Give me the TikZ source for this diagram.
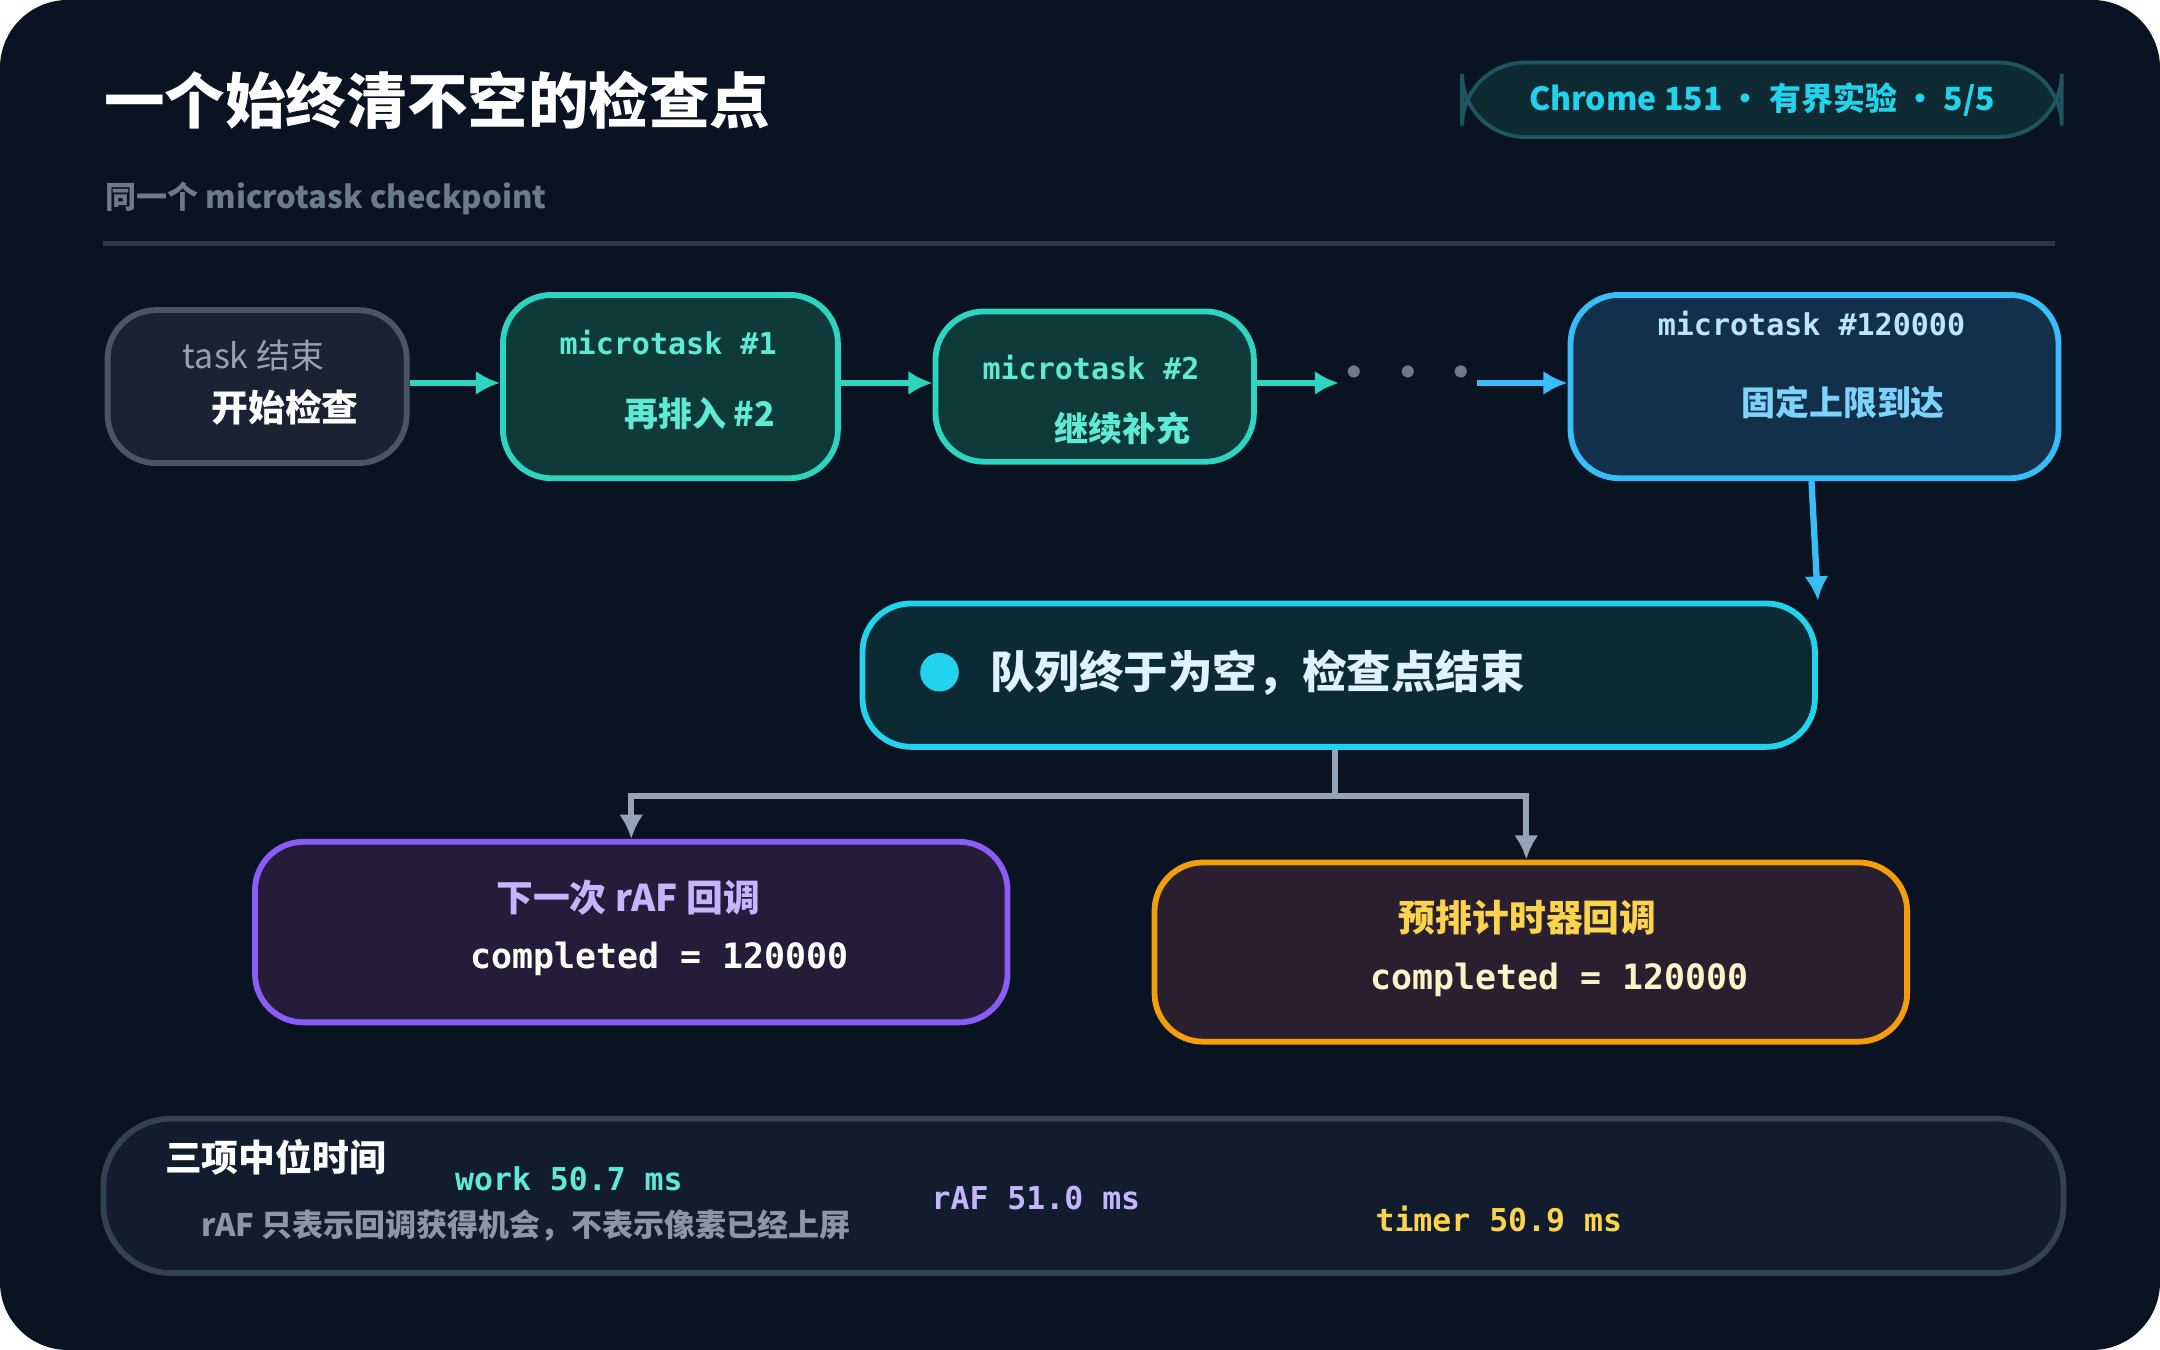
\documentclass[tikz,border=0pt]{standalone}
\usepackage{fontspec}
\setmainfont{Noto Sans CJK SC}
\newfontfamily\codefont{DejaVu Sans Mono}
\usetikzlibrary{positioning,arrows.meta}
\definecolor{bgc}{HTML}{0A1321}
\definecolor{teal}{HTML}{2DD4BF}
\definecolor{tealtxt}{HTML}{5EEAD4}
\definecolor{tealfill}{HTML}{0F3A3A}
\definecolor{sky}{HTML}{38BDF8}
\definecolor{skyfill}{HTML}{12304A}
\definecolor{skytxt}{HTML}{7DD3FC}
\definecolor{skypale}{HTML}{BAE6FD}
\definecolor{cyanc}{HTML}{22D3EE}
\definecolor{cyanfill}{HTML}{0C2A33}
\definecolor{cyanpale}{HTML}{E0F2FE}
\definecolor{greyline}{HTML}{94A3B8}
\definecolor{greytxt}{HTML}{6B7A8C}
\definecolor{greytxt2}{HTML}{8B97A8}
\definecolor{rule}{HTML}{2A3648}
\definecolor{badgefill}{HTML}{0E2A33}
\definecolor{badgeline}{HTML}{1D5560}
\definecolor{startfill}{HTML}{1A2233}
\definecolor{startline}{HTML}{4A5568}
\definecolor{purp}{HTML}{8B5CF6}
\definecolor{purpfill}{HTML}{251C3A}
\definecolor{purptxt}{HTML}{C4B5FD}
\definecolor{amber}{HTML}{F59E0B}
\definecolor{amberfill}{HTML}{2A1F2E}
\definecolor{ambertxt}{HTML}{FCD34D}
\definecolor{amberpale}{HTML}{FEF3C7}
\definecolor{sumfill}{HTML}{111D2E}
\definecolor{sumline}{HTML}{334155}
\tikzset{
  box/.style={draw, line width=1.2pt, rounded corners=10pt, anchor=north west, inner sep=0pt},
  flow/.style={-{Latex[length=5pt,width=5pt]}, line width=1.3pt},
  lbl/.style={font=\fontsize{7}{8}\selectfont\bfseries, inner sep=0pt},
  code/.style={font=\codefont\fontsize{6.2}{7}\selectfont\bfseries, inner sep=0pt},
}
\begin{document}
\begin{tikzpicture}[x=0.01cm,y=-0.01cm]
	%background
	\useasboundingbox (0,0) rectangle (1568,980);
	\fill[bgc, rounded corners=14pt] (0,0) rectangle (1568,980);

	%header
	\node[anchor=west, text=white, font=\fontsize{12.5}{14}\selectfont\bfseries, inner sep=0pt] (title) at (75,73) {一个始终清不空的检查点};
	\node[box, fill=badgefill, draw=badgeline, line width=0.8pt, rounded corners=13pt, minimum width=4.35cm, minimum height=0.54cm] (badge) at (1060,44) {};
	\node[lbl, text=cyanc, font=\fontsize{6.6}{8}\selectfont\bfseries] at (badge.center) {Chrome 151 · 有界实验 · 5/5};
	\node[anchor=west, text=greytxt, font=\fontsize{6.4}{8}\selectfont\bfseries, inner sep=0pt] (sub) at (76,144) {同一个 microtask checkpoint};
	\draw[rule, line width=1pt] (75,177) -- (1492,177);

	%top row
	\node[box, fill=startfill, draw=startline, minimum width=2.17cm, minimum height=1.11cm] (start) at (76,223) {};
	\node[lbl, text=greyline, font=\fontsize{7}{8}\selectfont] at (184,258) {task 结束};
	\node[lbl, text=white, font=\fontsize{7.6}{9}\selectfont\bfseries] at (207,296) {开始检查};

	\node[box, fill=tealfill, draw=teal, minimum width=2.43cm, minimum height=1.33cm] (mt1) at (363,212) {};
	\node[code, text=tealtxt] at (485,249) {microtask \#1};
	\node[lbl, text=tealtxt] at (508,300) {再排入 \#2};

	\node[box, fill=tealfill, draw=teal, minimum width=2.31cm, minimum height=1.09cm] (mt2) at (677,224) {};
	\node[code, text=tealtxt] at (792,267) {microtask \#2};
	\node[lbl, text=tealtxt] at (815,311) {继续补充};

	\node[text=greytxt, font=\fontsize{9}{10}\selectfont\bfseries, inner sep=0pt] (dots) at (1022,274) {• • •};
	\coordinate (dotsL) at (972,278);
	\coordinate (dotsR) at (1072,278);

	\node[box, fill=skyfill, draw=sky, minimum width=3.54cm, minimum height=1.33cm] (mtn) at (1138,212) {};
	\node[code, text=skypale] at (1315,235) {microtask \#120000};
	\node[lbl, text=skytxt] at (1338,292) {固定上限到达};

	\draw[flow, teal] (start.east |- 0,278) -- (mt1.west |- 0,278);
	\draw[flow, teal] (mt1.east |- 0,278) -- (mt2.west |- 0,278);
	\draw[flow, teal] (mt2.east |- 0,278) -- (dotsL);
	\draw[flow, sky] (dotsR) -- (mtn.west |- 0,278);

	%checkpoint end
	\node[box, fill=cyanfill, draw=cyanc, minimum width=6.91cm, minimum height=1.04cm] (done) at (624,436) {};
	\fill[cyanc] (682,488) circle (14);
	\node[anchor=west, text=cyanpale, font=\fontsize{9.2}{11}\selectfont\bfseries, inner sep=0pt] at (718,488) {队列终于为空，检查点结束};
	\draw[flow, sky] (mtn.south -| 1315,0) -- (done.north east);

	%results
	\node[box, fill=purpfill, draw=purp, minimum width=5.46cm, minimum height=1.31cm] (raf) at (183,609) {};
	\node[lbl, text=purptxt, font=\fontsize{7.6}{9}\selectfont\bfseries] at (456,652) {下一次 rAF 回调};
	\node[code, text=white, font=\codefont\fontsize{7.2}{8}\selectfont\bfseries] at (479,696) {completed = 120000};

	\node[box, fill=amberfill, draw=amber, minimum width=5.46cm, minimum height=1.30cm] (timer) at (836,624) {};
	\node[lbl, text=ambertxt, font=\fontsize{7.6}{9}\selectfont\bfseries] at (1109,666) {预排计时器回调};
	\node[code, text=amberpale, font=\codefont\fontsize{7.2}{8}\selectfont\bfseries] at (1132,711) {completed = 120000};

	\coordinate (split) at (969,578);
	\draw[greyline, line width=1.2pt] (done.south -| split) -- (split);
	\draw[flow, greyline, line width=1.2pt] (split) -| (raf.north);
	\draw[flow, greyline, line width=1.2pt] (split) -| (timer.north -| 1108,0);

	%summary
	\node[box, fill=sumfill, draw=sumline, rounded corners=14pt, minimum width=14.22cm, minimum height=1.12cm] (sum) at (73,810) {};
	\node[lbl, text=white, font=\fontsize{7.6}{9}\selectfont\bfseries] at (200,840) {三项中位时间};
	\node[lbl, text=greytxt2, font=\fontsize{6.4}{8}\selectfont\bfseries] at (382,890) {rAF 只表示回调获得机会，不表示像素已经上屏};
	\node[code, text=tealtxt, font=\codefont\fontsize{6.5}{8}\selectfont\bfseries] at (413,856) {work 50.7 ms};
	\node[code, text=purptxt, font=\codefont\fontsize{6.5}{8}\selectfont\bfseries] at (752,870) {rAF 51.0 ms};
	\node[code, text=ambertxt, font=\codefont\fontsize{6.5}{8}\selectfont\bfseries] at (1088,885) {timer 50.9 ms};
\end{tikzpicture}
\end{document}
